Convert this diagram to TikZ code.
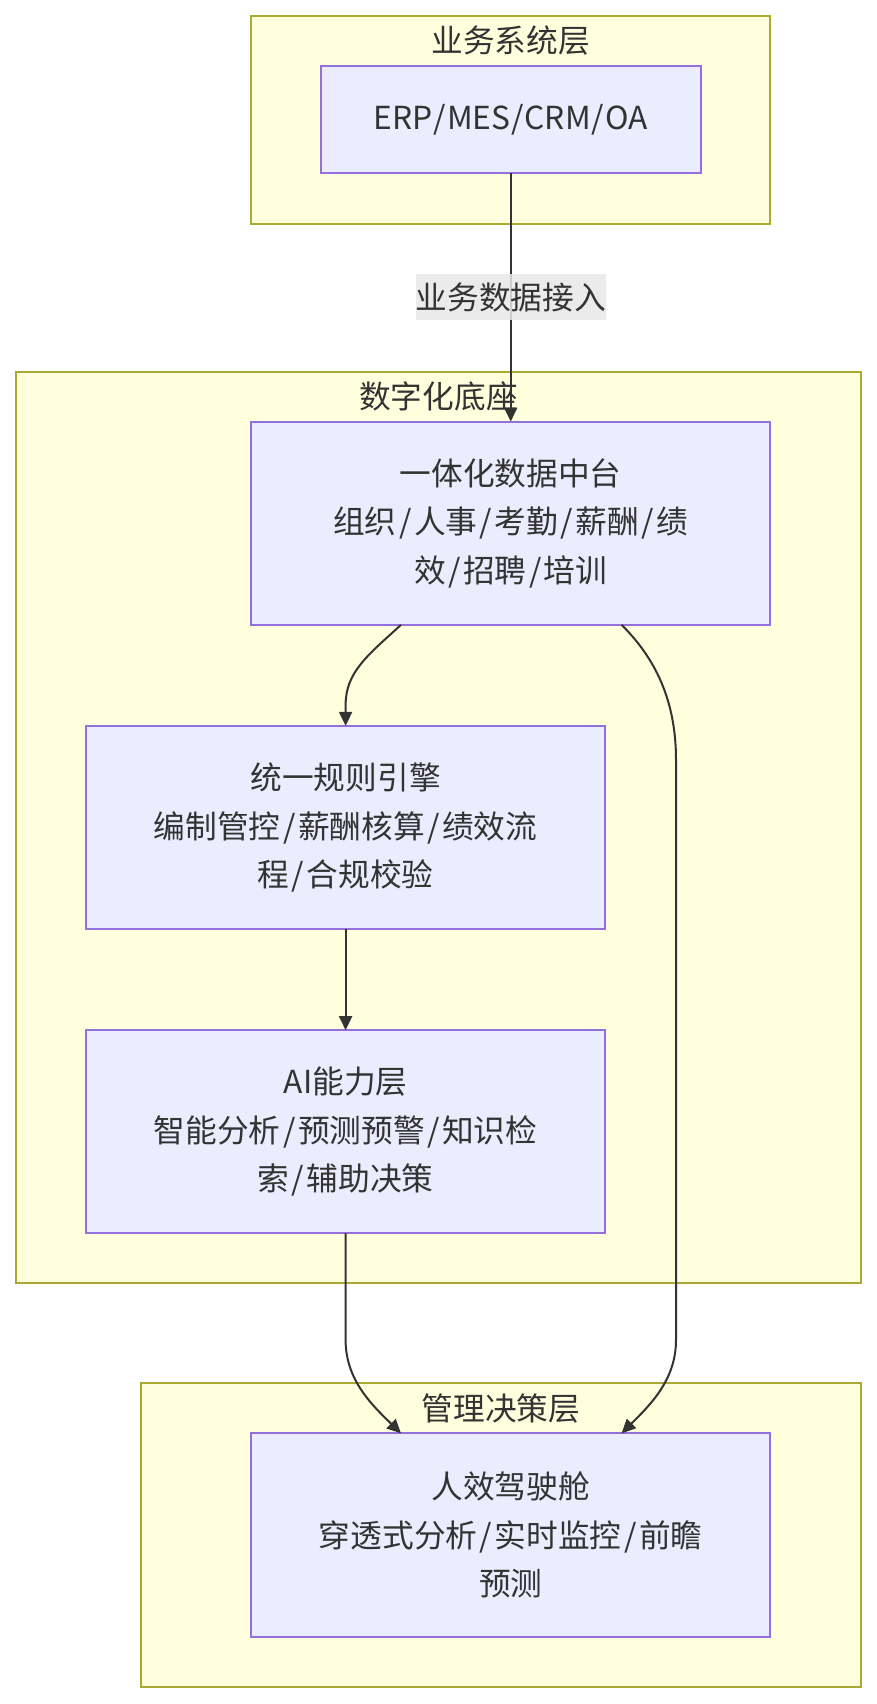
\documentclass[tikz,border=0pt]{standalone}
\usepackage{fontspec}
\setmainfont{Noto Sans CJK SC}
\usetikzlibrary{arrows.meta}
\definecolor{clfill}{HTML}{FFFFDE}
\definecolor{clborder}{HTML}{AAAA33}
\definecolor{ndfill}{HTML}{ECECFF}
\definecolor{ndborder}{HTML}{9370DB}
\definecolor{txt}{HTML}{333333}
\definecolor{lblbg}{HTML}{E8E8E8}
\newcommand\Sl{\kern2.5pt/\kern2.5pt}
\begin{document}
\begin{tikzpicture}[x=1pt,y=-1pt,
  cluster/.style={draw=clborder, fill=clfill, line width=2pt, inner sep=0, outer sep=0},
  box/.style={draw=ndborder, fill=ndfill, line width=2pt, text=txt, align=center,
    inner sep=0, outer sep=0, minimum width=519.5pt, minimum height=203.3pt,
    font=\fontsize{31.7}{48.5}\selectfont},
  ttl/.style={text=txt, font=\fontsize{31.7}{38}\selectfont, inner sep=0},
  lbl/.style={text=txt, font=\fontsize{31.7}{38}\selectfont, fill=lblbg, fill opacity=0.85,
    text opacity=1, inner xsep=0pt, minimum height=46.6pt},
  edge/.style={draw=txt, line width=2pt, -{Triangle[length=14pt,width=13pt]}},
]
\useasboundingbox (0,0) rectangle (877,1704);
\fill[white] (0,0) rectangle (877,1704);

% clusters
\node[cluster, minimum width=519.5pt, minimum height=207.6pt] (c1) at (510.7,120.1) {};
\node[cluster, minimum width=844.4pt, minimum height=911.8pt] (c2) at (438.5,827.5) {};
\node[cluster, minimum width=719.4pt, minimum height=303.1pt] (c3) at (501.0,1535.0) {};
\node[ttl] (t1) at (510.7,40.2) {业务系统层};
\node[ttl] (t2) at (438.5,396.6) {数字化底座};
\node[ttl] (t3) at (501.0,1408.4) {管理决策层};

% nodes
\node[box, minimum width=380.3pt, minimum height=106.5pt] (E) at (510.7,119.5) {ERP\kern1pt/\kern1pt MES\kern1pt/\kern1pt CRM\kern1pt/\kern1pt OA};
\node[box] (A) at (510.7,523.2) {一体化数据中台\\组织\Sl 人事\Sl 考勤\Sl 薪酬\Sl 绩\\效\Sl 招聘\Sl 培训};
\node[box] (B) at (345.6,827.5) {统一规则引擎\\编制管控\Sl 薪酬核算\Sl 绩效流\\程\Sl 合规校验};
\node[box] (C) at (345.6,1131.8) {AI能力层\\智能分析\Sl 预测预警\Sl 知识检\\索\Sl 辅助决策};
\node[box] (D) at (510.7,1535.0) {人效驾驶舱\\穿透式分析\Sl 实时监控\Sl 前瞻\\预测};

% edges
\draw[edge] (E.south) -- (A.north) node[midway, lbl] (L) {业务数据接入};
\draw[edge] ([xshift=-109.7pt]A.south) .. controls (368,655) and (345.6,672) .. (345.6,705) -- (B.north);
\draw[edge] ([xshift=110.9pt]A.south) .. controls (655,658) and (676,700) .. (676,760) -- (676,1340)
  .. controls (676,1380) and (650,1405) .. ([xshift=110.9pt]D.north);
\draw[edge] (B.south) -- (C.north);
\draw[edge] (C.south) -- (345.6,1340) .. controls (345.6,1380) and (372,1405) .. ([xshift=-109.7pt]D.north);
\end{tikzpicture}
\end{document}
